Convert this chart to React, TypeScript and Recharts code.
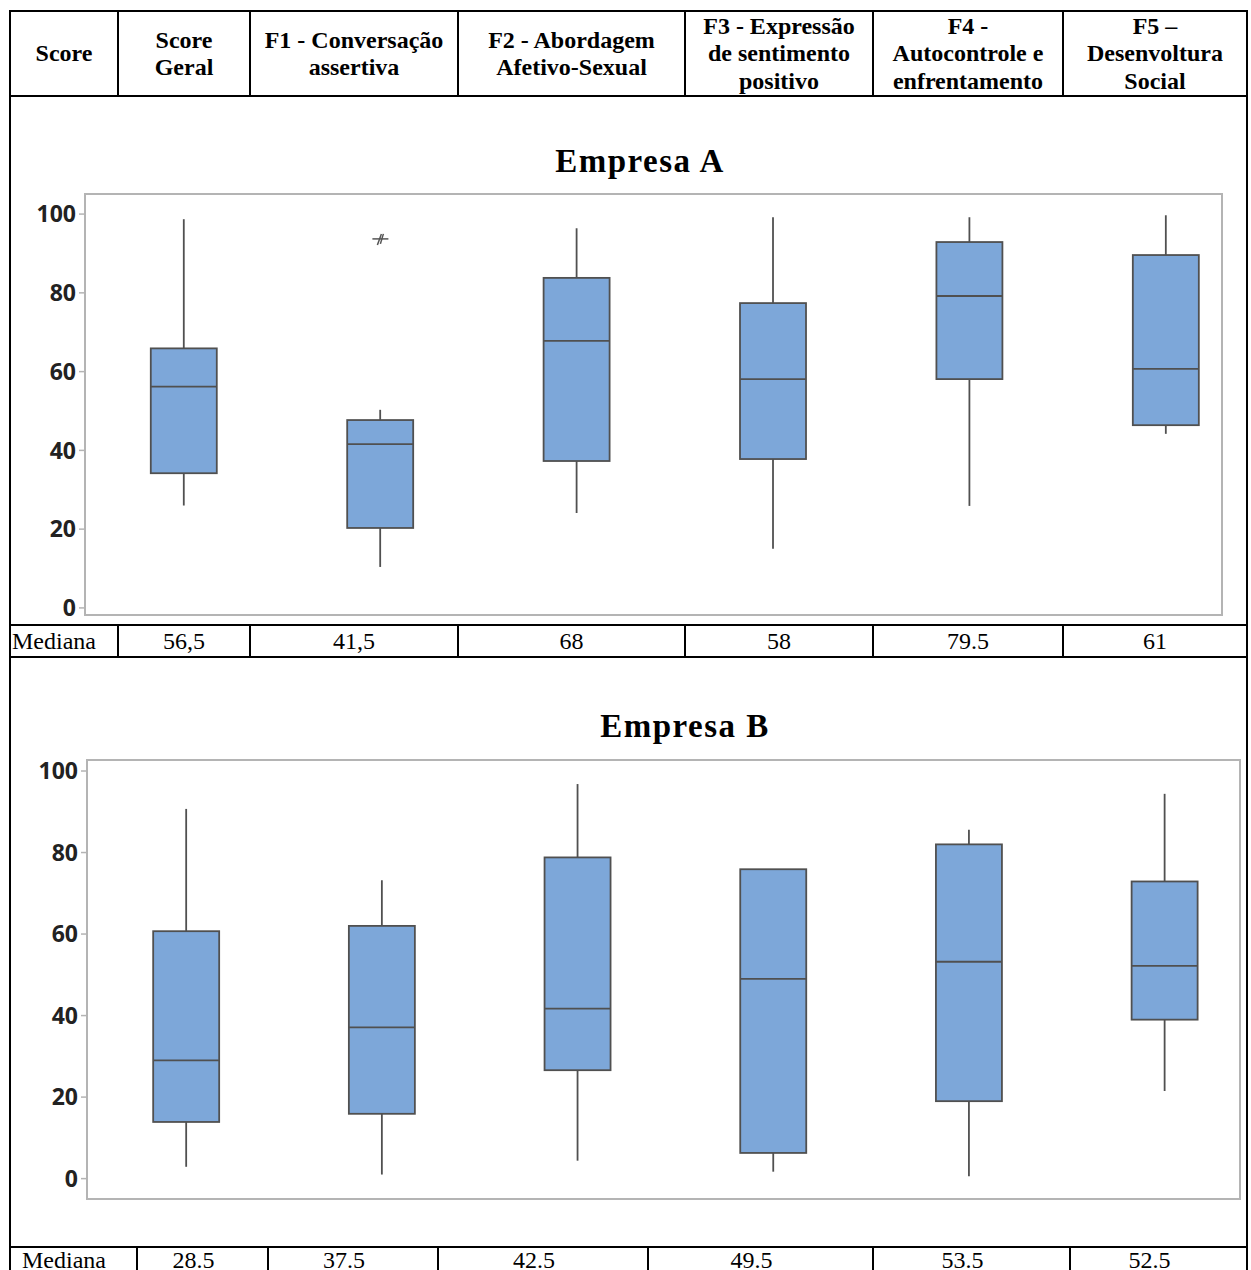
import React from 'react';
import { ComposedChart, Bar, Scatter, XAxis, YAxis, ReferenceArea } from 'recharts';

// ---------- data ----------
const headerLines: string[][] = [
  ['Score'],
  ['Score', 'Geral'],
  ['F1 - Conversação', 'assertiva'],
  ['F2 - Abordagem', 'Afetivo-Sexual'],
  ['F3 - Expressão', 'de sentimento', 'positivo'],
  ['F4 -', 'Autocontrole e', 'enfrentamento'],
  ['F5 –', 'Desenvoltura', 'Social'],
];
const positions = [0, 1, 2, 3, 4, 5];
const yTicks = [0, 20, 40, 60, 80, 100];
const rowLabel = 'Mediana';

const titleA = 'Empresa A';
const aLow = [26.0, 10.4, 24.1, 15.0, 25.9, 44.2];
const aQ1 = [34.2, 20.3, 37.3, 37.8, 58.1, 46.4];
const aMed = [56.2, 41.6, 67.8, 58.1, 79.2, 60.7];
const aQ3 = [65.9, 47.7, 83.8, 77.4, 92.9, 89.6];
const aHigh = [98.7, 50.3, 96.4, 99.2, 99.2, 99.7];
const aOutlierPos = [1];
const aOutlierVal = [93.7];
const aMedianLabels = ['56,5', '41,5', '68', '58', '79.5', '61'];

const titleB = 'Empresa B';
const bLow = [2.9, 1.0, 4.4, 1.7, 0.6, 21.5];
const bQ1 = [13.9, 15.9, 26.6, 6.3, 19.0, 39.0];
const bMed = [29.0, 37.1, 41.7, 49.0, 53.2, 52.2];
const bQ3 = [60.7, 62.0, 78.8, 75.9, 82.0, 72.9];
const bHigh = [90.7, 73.2, 96.8, 75.9, 85.6, 94.4];
const bMedianLabels = ['28.5', '37.5', '42.5', '49.5', '53.5', '52.5'];

// ---------- layout / style ----------
const HEADER_COLS = [10, 118, 250, 458, 685, 873, 1063, 1247];
const MED_B_COLS = [10, 137, 268, 438, 648, 873, 1070, 1247];
const SERIF = '"Liberation Serif", "Times New Roman", serif';
const BOX_FILL = '#7DA7D9';
const BOX_STROKE = '#505050';
const FRAME = '#b4b4b4';

const buildRows = (lo: number[], q1: number[], med: number[], q3: number[], hi: number[]) =>
  positions.map((p, i) => ({ pos: p, range: [q1[i], q3[i]], low: lo[i], q1: q1[i], med: med[i], q3: q3[i], high: hi[i] }));

const rowsA = buildRows(aLow, aQ1, aMed, aQ3, aHigh);
const rowsB = buildRows(bLow, bQ1, bMed, bQ3, bHigh);
const outliersA = aOutlierPos.map((p, i) => ({ pos: p, v: aOutlierVal[i] }));

const BoxShape = (props: any) => {
  const { x, y, width, height, payload } = props;
  if (x == null || y == null || !payload) return null;
  const top = Math.min(y, y + height);
  const h = Math.abs(height);
  const { low, q1, med, q3, high } = payload;
  const ppu = h / (q3 - q1);
  const yv = (v: number) => top + (q3 - v) * ppu;
  const cx = x + width / 2;
  return (
    <g>
      <line x1={cx} x2={cx} y1={yv(high)} y2={top} stroke={BOX_STROKE} strokeWidth={1.8} />
      <line x1={cx} x2={cx} y1={top + h} y2={yv(low)} stroke={BOX_STROKE} strokeWidth={1.8} />
      <rect x={x} y={top} width={width} height={h} fill={BOX_FILL} stroke={BOX_STROKE} strokeWidth={1.8} />
      <line x1={x} x2={x + width} y1={yv(med)} y2={yv(med)} stroke={BOX_STROKE} strokeWidth={1.8} />
    </g>
  );
};

const Asterisk = (props: any) => {
  const { cx, cy } = props;
  if (cx == null || cy == null) return null;
  return (
    <g stroke="#555" strokeWidth={1.5}>
      <line x1={cx - 8} x2={cx + 8} y1={cy} y2={cy} />
      <line x1={cx - 3} x2={cx + 1} y1={cy + 6} y2={cy - 5} />
      <line x1={cx} x2={cx + 3} y1={cy + 5} y2={cy - 5} />
    </g>
  );
};

interface BoxChartProps {
  rows: any[];
  outliers?: any[];
  width: number;
  height: number;
  margin: { top: number; right: number; bottom: number; left: number };
  yWidth: number;
  xDomain: [number, number];
  yDomain: [number, number];
}

const BoxChart = ({ rows, outliers, width, height, margin, yWidth, xDomain, yDomain }: BoxChartProps) => (
  <ComposedChart width={width} height={height} data={rows} margin={margin}>
    <XAxis
      dataKey="pos"
      type="number"
      domain={xDomain}
      ticks={positions}
      allowDataOverflow
      tick={false}
      tickLine={{ stroke: FRAME, strokeWidth: 1.5 }}
      tickSize={7}
      axisLine={false}
      height={10}
    />
    <YAxis
      type="number"
      domain={yDomain}
      ticks={yTicks}
      allowDataOverflow
      width={yWidth}
      tickSize={6}
      tickMargin={3}
      axisLine={false}
      tickLine={{ stroke: FRAME, strokeWidth: 1.5 }}
      tick={{ fontFamily: '"Open Sans", sans-serif', fontWeight: 700, fontSize: 23, fill: '#222' }}
    />
    <ReferenceArea
      x1={xDomain[0]}
      x2={xDomain[1]}
      y1={yDomain[0]}
      y2={yDomain[1]}
      fill="none"
      fillOpacity={0}
      stroke={FRAME}
      strokeWidth={2}
      ifOverflow="visible"
    />
    <Bar dataKey="range" barSize={66} shape={BoxShape} isAnimationActive={false} />
    {outliers && outliers.length > 0 && (
      <Scatter data={outliers} dataKey="v" shape={Asterisk} isAnimationActive={false} />
    )}
  </ComposedChart>
);

const HLine = ({ y, x1 = 10, x2 = 1248 }: { y: number; x1?: number; x2?: number }) => (
  <div style={{ position: 'absolute', left: x1, top: y - 1, width: x2 - x1, height: 2, background: '#000' }} />
);
const VLine = ({ x, y1, y2 }: { x: number; y1: number; y2: number }) => (
  <div style={{ position: 'absolute', left: x - 1, top: y1, width: 2, height: y2 - y1, background: '#000' }} />
);

const MedianRow = ({ cols, labels, top, height, labelPad, padRight }: { cols: number[]; labels: string[]; top: number; height: number; labelPad: number; padRight: number }) => (
  <>
    <div style={{ position: 'absolute', left: cols[0] + labelPad, top, height, lineHeight: height + 'px', fontFamily: SERIF, fontSize: 24 }}>{rowLabel}</div>
    {labels.map((t, i) => (
      <div
        key={i}
        style={{
          position: 'absolute',
          left: cols[i + 1],
          width: cols[i + 2] - cols[i + 1] - padRight,
          top,
          height,
          lineHeight: height + 'px',
          textAlign: 'center',
          fontFamily: SERIF,
          fontSize: 24,
        }}
      >
        {t}
      </div>
    ))}
  </>
);

export default function App() {
  return (
    <div style={{ position: 'absolute', left: 0, top: 0, width: 1251, height: 1270, overflow: 'hidden', background: '#fff', color: '#000' }}>
      {/* header */}
      {headerLines.map((lines, i) => (
        <div
          key={i}
          style={{
            position: 'absolute',
            left: HEADER_COLS[i],
            width: HEADER_COLS[i + 1] - HEADER_COLS[i],
            top: 12,
            height: 84,
            display: 'flex',
            flexDirection: 'column',
            alignItems: 'center',
            justifyContent: 'center',
            fontFamily: SERIF,
            fontWeight: 'bold',
            fontSize: 24,
            lineHeight: '27.5px',
            textAlign: 'center',
            overflow: 'hidden',
          }}
        >
          {lines.map((l, j) => (
            <div key={j} style={{ whiteSpace: 'nowrap' }}>{l}</div>
          ))}
        </div>
      ))}

      {/* chart A */}
      <div style={{ position: 'absolute', left: 0, top: 96, width: 1251, height: 529 }}>
        <BoxChart
          rows={rowsA}
          outliers={outliersA}
          width={1251}
          height={529}
          margin={{ top: 98, right: 29, bottom: 0, left: 0 }}
          yWidth={85}
          xDomain={[-0.504, 5.285]}
          yDomain={[-1.8, 105.1]}
        />
        <div style={{ position: 'absolute', left: 440, width: 400, top: 45, height: 40, lineHeight: '40px', textAlign: 'center', fontFamily: SERIF, fontWeight: 'bold', fontSize: 33, letterSpacing: 1.5 }}>
          {titleA}
        </div>
      </div>

      {/* chart B */}
      <div style={{ position: 'absolute', left: 0, top: 657, width: 1251, height: 590 }}>
        <BoxChart
          rows={rowsB}
          outliers={[]}
          width={1251}
          height={590}
          margin={{ top: 103, right: 11, bottom: 38, left: 0 }}
          yWidth={87}
          xDomain={[-0.506, 5.386]}
          yDomain={[-5, 102.7]}
        />
        <div style={{ position: 'absolute', left: 485, width: 400, top: 49, height: 40, lineHeight: '40px', textAlign: 'center', fontFamily: SERIF, fontWeight: 'bold', fontSize: 33, letterSpacing: 1.5 }}>
          {titleB}
        </div>
      </div>

      <MedianRow cols={HEADER_COLS} labels={aMedianLabels} top={626} height={30} labelPad={2} padRight={0} />
      <MedianRow cols={MED_B_COLS} labels={bMedianLabels} top={1245} height={30} labelPad={12} padRight={18} />

      {/* table lines */}
      <HLine y={11} />
      <HLine y={96} />
      <HLine y={625} />
      <HLine y={657} />
      <HLine y={1247} />
      <VLine x={10} y1={10} y2={1270} />
      <VLine x={1247} y1={10} y2={1270} />
      {HEADER_COLS.slice(1, -1).map((x, i) => (
        <VLine key={'h' + i} x={x} y1={11} y2={96} />
      ))}
      {HEADER_COLS.slice(1, -1).map((x, i) => (
        <VLine key={'a' + i} x={x} y1={625} y2={657} />
      ))}
      {MED_B_COLS.slice(1, -1).map((x, i) => (
        <VLine key={'b' + i} x={x} y1={1247} y2={1270} />
      ))}
    </div>
  );
}
